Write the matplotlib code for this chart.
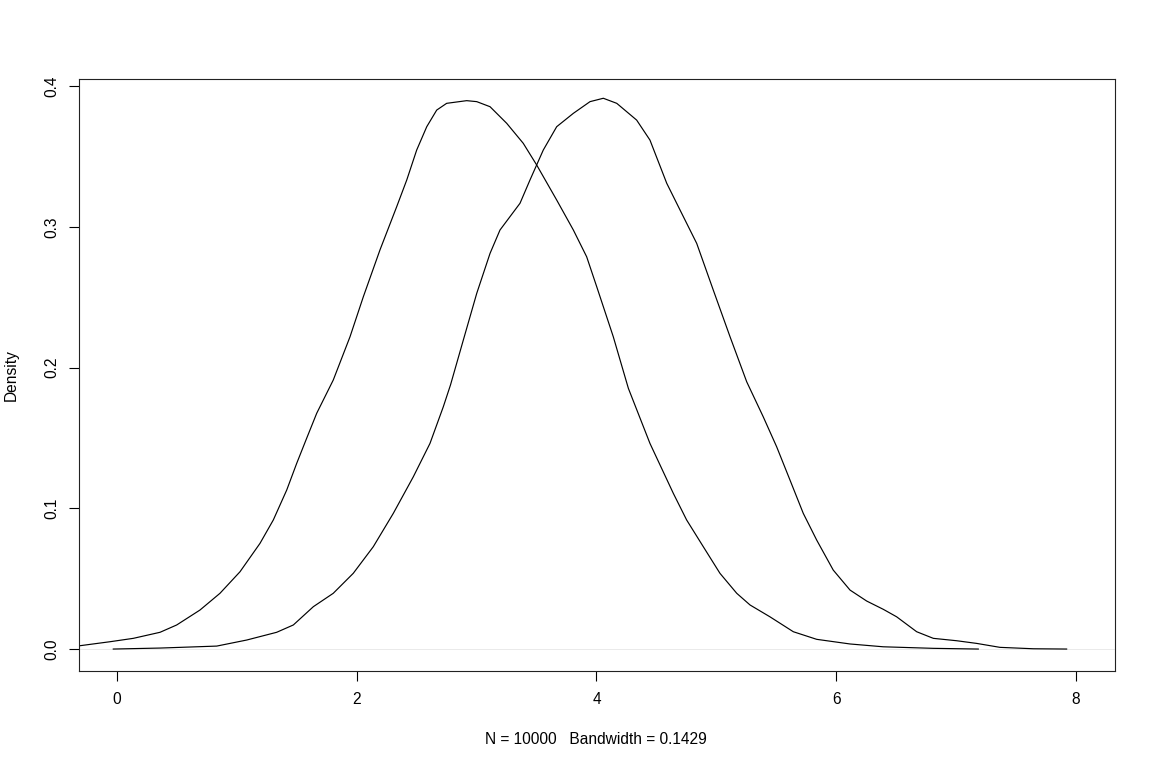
#!/usr/bin/env python3
"""Two kernel density curves, R plot.density style."""
import matplotlib
matplotlib.use("Agg")
import matplotlib.pyplot as plt

# Curve (first density, peak near 2.9)
dens_a_x = [-0.35, -0.058, 0.136, 0.359, 0.498, 0.692, 0.859, 1.026, 1.193, 1.304,
            1.416, 1.499, 1.582, 1.666, 1.749, 1.804, 1.944, 2.055, 2.194, 2.333,
            2.417, 2.500, 2.584, 2.667, 2.750, 2.917, 3.001, 3.112, 3.251, 3.389,
            3.501, 3.668, 3.807, 3.918, 4.002, 4.140, 4.266, 4.446, 4.641, 4.752,
            4.891, 5.030, 5.170, 5.281, 5.447, 5.642, 5.837, 6.115, 6.392, 6.810,
            7.185]
dens_a_y = [0.0019, 0.0052, 0.0076, 0.0119, 0.0171, 0.0277, 0.0396, 0.0549, 0.0751, 0.0917,
            0.1130, 0.1319, 0.1497, 0.1675, 0.1817, 0.1911, 0.2219, 0.2503, 0.2836, 0.3142,
            0.3332, 0.3545, 0.3711, 0.3829, 0.3877, 0.3896, 0.3889, 0.3853, 0.3735, 0.3593,
            0.3439, 0.3190, 0.2977, 0.2787, 0.2574, 0.2219, 0.1852, 0.1461, 0.1106, 0.0917,
            0.0727, 0.0538, 0.0396, 0.0313, 0.0229, 0.0123, 0.0069, 0.0036, 0.0016, 0.0005,
            0.0000]

# Second density, peak near 4.05
dens_b_x = [-0.031, 0.359, 0.832, 1.082, 1.332, 1.471, 1.638, 1.804, 1.971, 2.138,
            2.305, 2.472, 2.611, 2.722, 2.782, 2.889, 3.001, 3.112, 3.195, 3.362,
            3.445, 3.556, 3.668, 3.807, 3.946, 4.057, 4.169, 4.335, 4.446, 4.586,
            4.697, 4.836, 4.974, 5.114, 5.253, 5.391, 5.503, 5.614, 5.725, 5.837,
            5.975, 6.115, 6.254, 6.393, 6.504, 6.671, 6.810, 7.005, 7.172, 7.366,
            7.644, 7.922]
dens_b_y = [0.0000, 0.0007, 0.0021, 0.0064, 0.0119, 0.0171, 0.0301, 0.0396, 0.0538, 0.0727,
            0.0964, 0.1224, 0.1461, 0.1721, 0.1876, 0.2195, 0.2527, 0.2811, 0.2977, 0.3167,
            0.3332, 0.3545, 0.3711, 0.3806, 0.3889, 0.3913, 0.3877, 0.3758, 0.3616, 0.3309,
            0.3119, 0.2882, 0.2551, 0.2219, 0.1899, 0.1650, 0.1437, 0.1201, 0.0964, 0.0774,
            0.0561, 0.0419, 0.0341, 0.0282, 0.0229, 0.0123, 0.0076, 0.0059, 0.0040, 0.0012,
            0.0002, 0.0000]

x_ticks = [0, 2, 4, 6, 8]
y_ticks = [0.0, 0.1, 0.2, 0.3, 0.4]
y_tick_labels = ["0.0", "0.1", "0.2", "0.3", "0.4"]
x_label = "N = 10000   Bandwidth = 0.1429"
y_label = "Density"

plt.rcParams['font.family'] = ['Liberation Sans', 'DejaVu Sans']
FS = 11.2

W, H = 1155, 769
fig = plt.figure(figsize=(W / 100, H / 100), dpi=100)
ax = fig.add_axes([79 / W, 1 - 671 / H, (1114.7 - 79) / W, (671 - 78.7) / H])

ax.axhline(0, color='#e6e6e6', linewidth=0.6, zorder=1)
ax.plot(dens_a_x, dens_a_y, color='black', linewidth=0.85, zorder=2,
        solid_joinstyle='round')
ax.plot(dens_b_x, dens_b_y, color='black', linewidth=0.85, zorder=2,
        solid_joinstyle='round')

ax.set_xlim(-0.317, 8.323)
ax.set_ylim(-0.0156, 0.4052)

ax.set_xticks(x_ticks)
ax.set_xticklabels([str(v) for v in x_ticks])
ax.set_yticks(y_ticks)
ax.set_yticklabels(y_tick_labels, rotation=90, va='center')

ax.tick_params(axis='both', direction='out', length=7, width=0.8,
               labelsize=FS, color='black')
ax.tick_params(axis='x', pad=8)
ax.tick_params(axis='y', pad=7)
for sp in ax.spines.values():
    sp.set_linewidth(0.8)
    sp.set_color('#222222')

fig.text(596 / W, 1 - 739 / H, x_label, ha='center', va='center', fontsize=FS)
fig.text(11.7 / W, 1 - 375 / H, y_label, ha='center', va='center',
         rotation=90, fontsize=FS)

fig.savefig('out.png', dpi=100)
